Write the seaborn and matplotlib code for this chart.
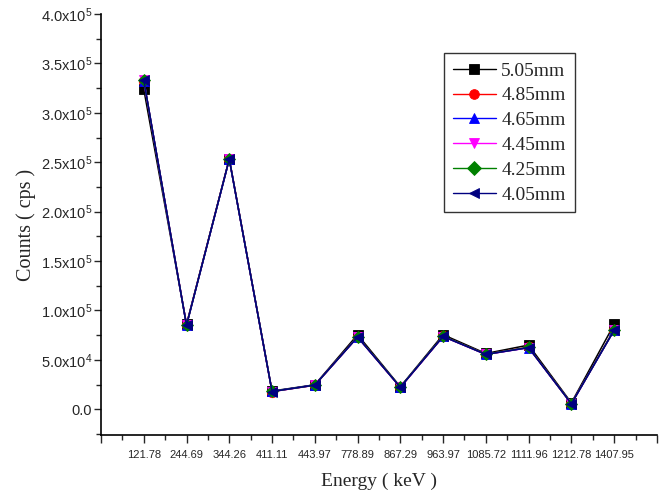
import numpy as np
import pandas as pd
import matplotlib
matplotlib.use("Agg")
import matplotlib.pyplot as plt
import seaborn as sns
from matplotlib.ticker import FixedLocator, FuncFormatter
from matplotlib.lines import Line2D

energies = ["121.78", "244.69", "344.26", "411.11", "443.97", "778.89",
            "867.29", "963.97", "1085.72", "1111.96", "1212.78", "1407.95"]
series_names = ["5.05mm", "4.85mm", "4.65mm", "4.45mm", "4.25mm", "4.05mm"]
s505 = [324000, 86000, 253000, 18500, 24800, 75500, 22800, 75500, 56500, 65000, 6500, 86000]
s485 = [332000, 85500, 253500, 18000, 24500, 73500, 22300, 74000, 55800, 62800, 5800, 80500]
s465 = [332500, 85000, 253000, 18200, 24600, 73200, 22400, 73800, 55600, 62500, 5600, 80000]
s445 = [333000, 85300, 253200, 17900, 24300, 73000, 22200, 73600, 55500, 62300, 5500, 80200]
s425 = [332800, 85200, 253300, 18100, 24400, 73300, 22500, 73900, 55700, 62600, 5700, 80300]
s405 = [333000, 85100, 253100, 18000, 24500, 73100, 22300, 73700, 55600, 62400, 5600, 80100]

colors = ["#000000", "#ff0000", "#0000ff", "#ff00ff", "#008000", "#000080"]
markers = ["s", "o", "^", "v", "D", "<"]

values = [s505, s485, s465, s445, s425, s405]
rows = []
for name, vals in zip(series_names, values):
    for i, v in enumerate(vals):
        rows.append({"pos": i, "Energy": energies[i], "Counts": v, "series": name})
df = pd.DataFrame(rows)

sns.set_style("ticks")
plt.rcParams["mathtext.default"] = "regular"

fig = plt.figure(figsize=(6.71, 4.95), dpi=100)
ax = fig.add_axes([0.1505, 0.1212, 0.8285, 0.8505])

sns.lineplot(data=df, x="pos", y="Counts", hue="series", style="series",
             hue_order=series_names, style_order=series_names,
             palette=dict(zip(series_names, colors)),
             markers=dict(zip(series_names, markers)), dashes=False,
             linewidth=1.1, markersize=7.5, ax=ax, legend=False)

for line in ax.lines:
    line.set_markeredgecolor(line.get_color())
    line.set_markeredgewidth(0.6)
    if line.get_marker() == "D":
        line.set_markersize(6)

ax.set_xlim(-1, 12)
ax.set_ylim(-26000, 400000)
ax.xaxis.set_major_locator(FixedLocator(list(range(-1, 13))))
ax.xaxis.set_minor_locator(FixedLocator([i + 0.5 for i in range(-1, 12)]))
ax.set_xticklabels([""] + energies + [""])
ax.yaxis.set_major_locator(FixedLocator([i * 50000 for i in range(9)]))
ax.yaxis.set_minor_locator(FixedLocator([-25000] + [25000 + i * 50000 for i in range(8)]))

def yfmt(v, pos):
    if v == 0:
        return "0.0"
    e = int(np.floor(np.log10(abs(v))))
    m = v / 10 ** e
    return r"%.1fx10$^{%d}$" % (m, e)

ax.yaxis.set_major_formatter(FuncFormatter(yfmt))

for lbl in ax.get_xticklabels() + ax.get_yticklabels():
    lbl.set_fontfamily("Liberation Sans")
ax.tick_params(axis="x", which="major", labelsize=8, length=6, width=1, direction="out", pad=5)
ax.tick_params(axis="y", which="major", labelsize=10.5, length=5, width=1, direction="out", pad=1.5)
ax.tick_params(axis="both", which="minor", length=3.5, width=1, direction="out")

for side in ["top", "right"]:
    ax.spines[side].set_visible(False)
for side in ["left", "bottom"]:
    ax.spines[side].set_linewidth(1.2)
    ax.spines[side].set_color("black")

ax.set_xlabel("Energy ( keV )", fontfamily="Liberation Serif", fontsize=14, labelpad=9)
ax.set_ylabel("Counts ( cps )", fontfamily="Liberation Serif", fontsize=14.5, labelpad=3)

handles = [Line2D([], [], color=c, marker=m, markersize=7, linewidth=1.0,
                  markeredgecolor=c, markeredgewidth=0.6)
           for c, m in zip(colors, markers)]
leg = ax.legend(handles, series_names, loc="upper left", bbox_to_anchor=(0.617, 0.907),
                prop={"family": "Liberation Serif", "size": 14},
                frameon=True, fancybox=False, edgecolor="black",
                handlelength=2.2, handletextpad=0.3, labelspacing=0.37,
                borderpad=0.45, borderaxespad=0)
leg.get_frame().set_linewidth(1.0)

fig.savefig("out.png", dpi=100)
